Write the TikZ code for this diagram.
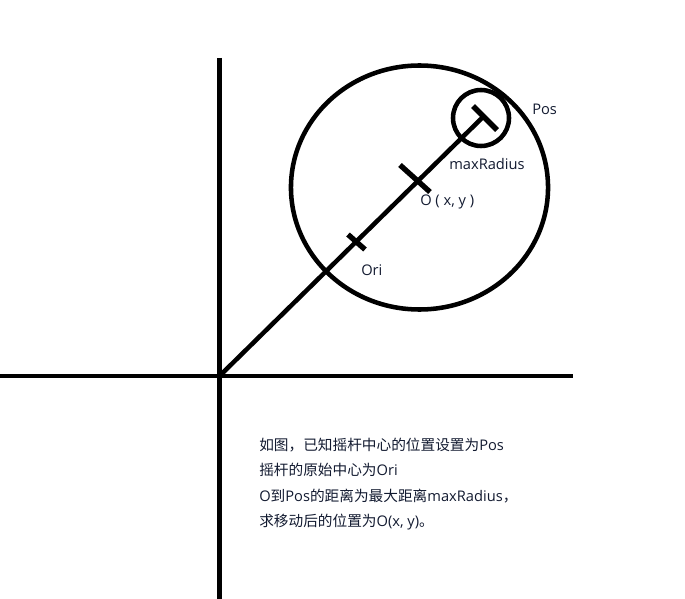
\documentclass[tikz,border=0pt]{standalone}
\usepackage{fontspec}
\setmainfont{Open Sans}
\newfontfamily\cjk{Noto Sans CJK SC}
\usetikzlibrary{positioning}
\definecolor{ink}{RGB}{18,26,48}

\begin{document}
\begin{tikzpicture}[x=0.75pt, y=-0.75pt,
    thickline/.style={line width=3.4pt},
    notch/.style={line width=4pt},
    lbl/.style={anchor=base west, inner sep=0pt, text=ink,
      font=\fontsize{11}{13}\selectfont}]
  \useasboundingbox (0,0) rectangle (685,599);

  \coordinate (ytop) at (219.5,58); \coordinate (ybot) at (219.5,599);
  \coordinate (xleft) at (0,376); \coordinate (xright) at (573,376);
  \coordinate (o) at (219.5,376);
  \coordinate (ori) at (356.5,242);
  \coordinate (O) at (416,180);
  \coordinate (pos) at (484,116);
  \coordinate (bigc) at (419.5,187.5);
  \coordinate (smallc) at (481,118);

  \begin{scope}[thickline]
    \draw (ytop) -- (ybot);
    \draw (xleft) -- (xright);
    \draw (o) -- (pos);
    \draw (bigc) ellipse [x radius=96.4pt, y radius=91.5pt];
    \draw (smallc) circle [radius=21pt];
  \end{scope}

  % ticks on the line
  \begin{scope}[notch]
    \draw (ori) ++(-8.5,-7.5) -- ++(17,15);
    \draw (O) ++(-16,-15) -- ++(30,27);
    \draw (pos) ++(-11,-10) -- ++(24,24);
  \end{scope}

  \begin{scope}[every node/.style={lbl}]
    \node (poslabel) at (532,115) {Pos};
    \node (radlabel) at (449,170) {maxRadius};
    \node (olabel) at (420,205) {O ( x, y )};
    \node (orilabel) at (361,275) {Ori};
    \node (note1) at (259,450) {{\cjk 如图，已知摇杆中心的位置设置为}Pos};
    \node (note2) at (259,475.5) {{\cjk 摇杆的原始中心为}Ori};
    \node (note3) at (259,501) {O{\cjk 到}Pos{\cjk 的距离为最大距离}maxRadius{\cjk ，}};
    \node (note4) at (259,526) {{\cjk 求移动后的位置为}O(x, y){\cjk 。}};
  \end{scope}
\end{tikzpicture}
\end{document}
